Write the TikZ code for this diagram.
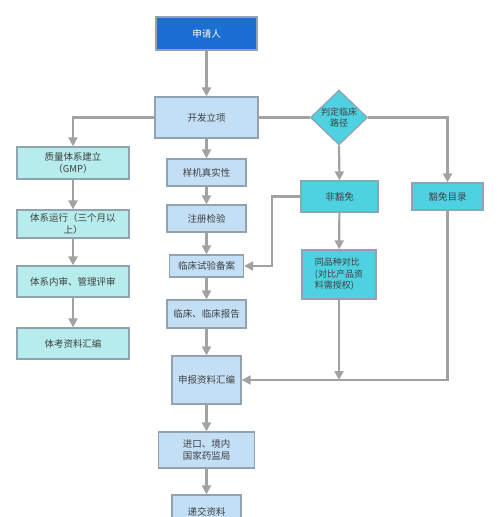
\documentclass[tikz,border=0pt]{standalone}
\usepackage{fontspec}
\usepackage{xcolor}
\usetikzlibrary{positioning, arrows.meta, shapes.geometric}
\newfontfamily\cjk{Noto Sans CJK SC}
\definecolor{deepblue}{HTML}{1C6FD2}
\definecolor{paleblue}{HTML}{C3DFF6}
\definecolor{paleteal}{HTML}{B6ECEC}
\definecolor{brightcyan}{HTML}{4ED2E2}
\definecolor{edgegray}{HTML}{8FA3B3}
\definecolor{linegray}{HTML}{A2A2A2}

\begin{document}
\begin{tikzpicture}[
            x=1pt, y=-1pt,
            every node/.style={font=\cjk\fontsize{9.5}{12.5}\selectfont, text=black!75, inner sep=2pt},
            bluebox/.style={rectangle, draw=edgegray, line width=1.3pt, fill=paleblue, align=center},
            tealbox/.style={rectangle, draw=edgegray, line width=1.3pt, fill=paleteal, align=center},
            cyanbox/.style={rectangle, draw=edgegray, line width=1.3pt, fill=brightcyan, align=center},
            flow/.style={draw=linegray, line width=2.2pt, -{Triangle[length=9pt, width=9pt]}},
            plain/.style={draw=linegray, line width=2.2pt},
        ]
            \useasboundingbox (0,0) rectangle (500,517);
            \node[rectangle, draw=edgegray, line width=1.3pt, fill=deepblue, text=white, minimum width=101pt, minimum height=33pt] (applicant) at (206.5,33.5) {申请人};
            \node[bluebox, minimum width=103pt, minimum height=41pt] (project) at (206.5,117.5) {开发立项};
            \node[bluebox, minimum width=79pt, minimum height=27pt] (sample) at (206.5,172.5) {样机真实性};
            \node[bluebox, minimum width=79pt, minimum height=27pt] (test) at (206.5,218.5) {注册检验};
            \node[bluebox, minimum width=74pt, minimum height=22pt] (filing) at (206.5,266) {临床试验备案};
            \node[bluebox, minimum width=79pt, minimum height=28pt] (report) at (206.5,314) {临床、临床报告};
            \node[bluebox, minimum width=69pt, minimum height=48pt] (submit) at (206.5,380) {申报资料汇编};
            \node[bluebox, minimum width=96pt, minimum height=36pt] (nmpa) at (206.5,450) {进口、境内\\国家药监局};
            \node[bluebox, minimum width=69pt, minimum height=34pt] (deliver) at (206.5,512) {递交资料};

            \node[tealbox, minimum width=112pt, minimum height=32pt] (gmp) at (73,163) {质量体系建立\\（GMP）};
            \node[tealbox, minimum width=112pt, minimum height=28pt] (operate) at (73,224) {体系运行（三个月以\\上）};
            \node[tealbox, minimum width=112pt, minimum height=31pt] (audit) at (73,281.5) {体系内审、管理评审};
            \node[tealbox, minimum width=112pt, minimum height=31pt] (dossier) at (73,343.5) {体考资料汇编};

            \node[diamond, draw=edgegray, line width=1.3pt, fill=brightcyan, minimum width=57pt, minimum height=45pt, inner sep=0pt, align=center, font=\cjk\fontsize{9}{10.5}\selectfont] (route) at (339,117.5) {判定临床\\路径};
            \node[cyanbox, minimum width=77pt, minimum height=31pt] (nonexempt) at (339.5,196.5) {非豁免};
            \node[cyanbox, minimum width=71pt, minimum height=27pt] (exempt) at (447.5,196.5) {豁免目录};
            \node[cyanbox, minimum width=74pt, minimum height=49pt, align=left, font=\cjk\fontsize{9}{11.5}\selectfont] (compare) at (339,274.5) {同品种对比\\(对比产品资\\料需授权)};

            \draw[flow] (applicant) -- (project);
            \draw[flow] (project) -- (sample);
            \draw[flow] (sample) -- (test);
            \draw[flow] (test) -- (filing);
            \draw[flow] (filing) -- (report);
            \draw[flow] (report) -- (submit);
            \draw[flow] (submit) -- (nmpa);
            \draw[flow] (nmpa) -- (deliver);

            \draw[flow] (project.west) -| (gmp.north);
            \draw[flow] (gmp) -- (operate);
            \draw[flow] (operate) -- (audit);
            \draw[flow] (audit) -- (dossier);

            \draw[plain] (project.east) -- (route.west);
            \draw[flow] (route.east) -| (exempt.north);
            \draw[flow] (route.south) -- (nonexempt.north);
            \draw[flow] (nonexempt.west) -- ++(-28,0) |- (filing.east);
            \draw[flow] (nonexempt) -- (compare);
            \draw[flow] (exempt.south) |- (submit.east);
            \draw[flow] (compare.south) -- (compare.south |- submit.east);
        \end{tikzpicture}
\end{document}
